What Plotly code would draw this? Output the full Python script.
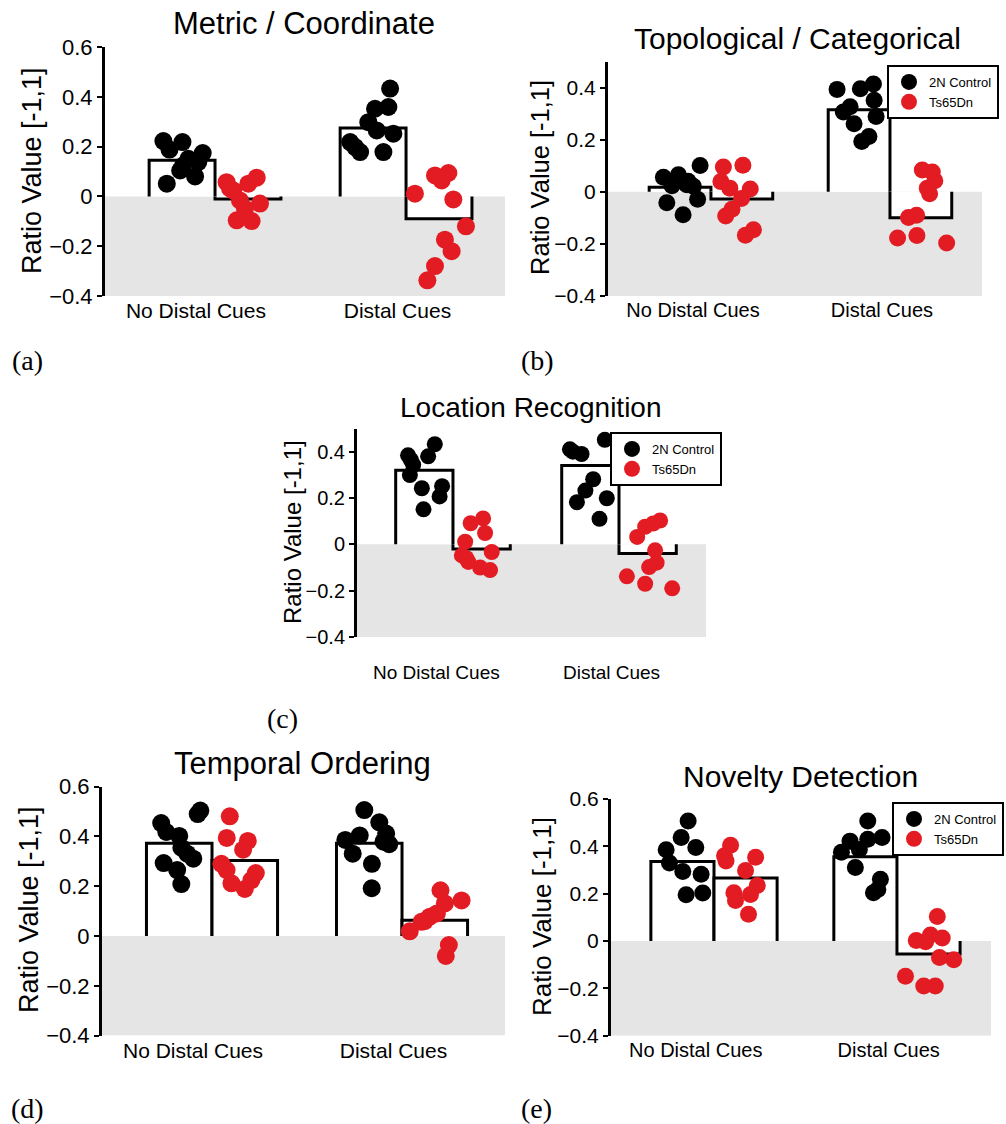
import plotly.graph_objects as go

# ---------------- data ----------------
categories = ["No Distal Cues", "Distal Cues"]
series_names = ["2N Control", "Ts65Dn"]

titles = ["Metric / Coordinate", "Topological / Categorical", "Location Recognition",
          "Temporal Ordering", "Novelty Detection"]
panel_labels = ["(a)", "(b)", "(c)", "(d)", "(e)"]
y_title = "Ratio Value [-1,1]"

# bar heights: [control no-distal, Ts65Dn no-distal, control distal, Ts65Dn distal]
A_bars = [0.145, -0.01, 0.275, -0.09]
B_bars = [0.017, -0.028, 0.315, -0.10]
C_bars = [0.32, -0.02, 0.34, -0.04]
D_bars = [0.373, 0.303, 0.373, 0.063]
E_bars = [0.336, 0.266, 0.356, -0.055]

# individual animals (values) and their horizontal jitter inside the bar
A_ctrl_nd = [0.222, 0.218, 0.188, 0.174, 0.151, 0.138, 0.104, 0.080, 0.051, 0.124]
A_ctrl_nd_jit = [-0.098, 0.002, -0.066, 0.108, 0.033, 0.085, -0.010, 0.068, -0.080, 0.005]
A_ts_nd = [0.057, 0.075, 0.051, 0.024, -0.016, -0.029, -0.049, -0.096, -0.099, 0.032]
A_ts_nd_jit = [-0.112, 0.046, 0.002, -0.077, -0.042, 0.063, -0.016, -0.059, 0.019, -0.094]
A_ctrl_d = [0.433, 0.359, 0.352, 0.298, 0.265, 0.252, 0.218, 0.178, 0.178, 0.198]
A_ctrl_d_jit = [0.089, 0.080, 0.010, -0.025, 0.019, 0.106, -0.120, -0.068, 0.054, -0.094]
A_ts_d = [0.011, 0.084, 0.094, 0.064, -0.012, -0.120, -0.174, -0.220, -0.280, -0.337]
A_ts_d_jit = [-0.126, -0.021, 0.049, 0.014, 0.075, 0.141, 0.031, 0.066, -0.021, -0.061]

B_ctrl_nd = [0.101, 0.056, 0.065, 0.023, 0.027, 0.021, -0.029, -0.042, -0.088, 0.040]
B_ctrl_nd_jit = [0.112, -0.093, -0.009, -0.045, 0.037, 0.074, 0.098, -0.074, 0.017, 0.045]
B_ts_nd = [0.095, 0.102, 0.039, 0.014, 0.011, -0.026, -0.067, -0.093, -0.146, -0.167]
B_ts_nd_jit = [-0.103, 0.006, -0.117, -0.067, 0.047, -0.002, -0.055, -0.090, 0.065, 0.020]
B_ctrl_d = [0.393, 0.395, 0.414, 0.351, 0.326, 0.306, 0.289, 0.261, 0.212, 0.193]
B_ctrl_d_jit = [-0.123, 0.007, 0.080, 0.084, -0.050, -0.088, 0.095, -0.028, 0.055, 0.015]
B_ts_d = [0.084, 0.076, 0.042, 0.014, -0.008, -0.090, -0.099, -0.177, -0.168, -0.197]
B_ts_d_jit = [0.008, 0.064, 0.078, 0.036, 0.049, -0.024, -0.069, -0.130, -0.022, 0.144]

C_ctrl_nd = [0.384, 0.432, 0.380, 0.343, 0.299, 0.242, 0.251, 0.207, 0.151, 0.364]
C_ctrl_nd_jit = [-0.098, 0.063, 0.023, -0.067, -0.087, -0.015, 0.107, 0.092, -0.005, -0.081]
C_ts_nd = [0.091, 0.112, 0.049, 0.011, -0.033, -0.048, -0.076, -0.100, -0.111, -0.059]
C_ts_nd_jit = [-0.066, 0.009, 0.021, -0.099, 0.061, -0.119, -0.080, -0.009, 0.051, -0.093]
C_ctrl_d = [0.410, 0.390, 0.451, 0.281, 0.232, 0.182, 0.199, 0.110, 0.400]
C_ctrl_d_jit = [-0.123, -0.053, 0.087, 0.017, -0.030, -0.081, 0.099, 0.055, -0.105]
C_ts_d = [0.103, 0.076, 0.032, -0.026, -0.079, -0.098, -0.138, -0.170, -0.190, 0.090]
C_ts_d_jit = [0.075, -0.015, -0.063, 0.045, 0.054, 0.009, -0.125, -0.015, 0.148, 0.033]

D_ctrl_nd = [0.454, 0.418, 0.402, 0.355, 0.331, 0.311, 0.293, 0.265, 0.209, 0.490, 0.504]
D_ctrl_nd_jit = [-0.095, -0.068, 0.000, 0.011, 0.042, 0.074, -0.082, -0.011, 0.011, 0.097, 0.111]
D_ts_nd = [0.481, 0.394, 0.382, 0.347, 0.290, 0.265, 0.253, 0.225, 0.212, 0.189]
D_ts_nd_jit = [-0.079, -0.095, 0.016, -0.009, -0.123, -0.096, 0.058, 0.035, -0.070, 0.000]
D_ctrl_d = [0.506, 0.457, 0.412, 0.404, 0.386, 0.369, 0.331, 0.290, 0.192, 0.379]
D_ctrl_d_jit = [-0.026, 0.053, 0.089, -0.050, -0.126, 0.105, -0.087, 0.014, 0.013, 0.075]
D_ts_d = [0.184, 0.143, 0.131, 0.091, 0.078, 0.057, 0.019, -0.036, -0.080, 0.060]
D_ts_d_jit = [0.030, 0.141, 0.053, 0.011, -0.026, -0.070, -0.132, 0.074, 0.058, -0.053]

E_ctrl_nd = [0.507, 0.437, 0.386, 0.395, 0.330, 0.294, 0.282, 0.195, 0.203]
E_ctrl_nd_jit = [0.031, -0.007, -0.089, 0.073, -0.071, 0.002, 0.102, 0.020, 0.111]
E_ts_nd = [0.405, 0.338, 0.354, 0.298, 0.235, 0.204, 0.197, 0.171, 0.113, 0.360]
E_ts_nd_jit = [-0.082, -0.107, 0.055, 0.000, 0.064, -0.064, 0.027, -0.055, 0.016, -0.115]
E_ctrl_d = [0.507, 0.422, 0.430, 0.437, 0.387, 0.375, 0.311, 0.261, 0.218, 0.204]
E_ctrl_d_jit = [0.013, -0.084, 0.013, 0.091, -0.033, -0.131, -0.055, 0.082, 0.068, 0.044]
E_ts_d = [0.104, 0.002, -0.003, 0.025, 0.013, -0.070, -0.079, -0.149, -0.190, -0.190]
E_ts_d_jit = [0.048, -0.067, -0.016, 0.011, 0.075, 0.060, 0.138, -0.126, -0.026, 0.037]

# ---------------- layout / style ----------------
W, H = 1006, 1124
BLACK = "black"
RED = "rgb(227,28,35)"
GRAY = "rgb(229,229,229)"
FONT = "Liberation Sans, Arial, Helvetica, sans-serif"
SERIF = "Liberation Serif, Times New Roman, serif"
BAR_W = 0.345
GROUP_POS = [1, 2]
TICK_POS = [0.9, 1.955]

# pixel boxes for each panel
panel_cfg = [
    dict(x0=105, x1=505, ytop=47, ybot=296, yr=[-0.4, 0.6], xr=[0.424, 2.518],
         title_xy=(304, 23), tsize=31, ticksize=21, yticksize=22, ytsize=27, ytitle_xy=(32, 171),
         label_xy=(27, 360), msize=18, standoff=0, legend=None),
    dict(x0=608, x1=982, ytop=61.5, ybot=296, yr=[-0.4, 0.5], xr=[0.425, 2.514],
         title_xy=(797, 39), tsize=30, ticksize=20, yticksize=21, ytsize=25.5, ytitle_xy=(540, 178),
         label_xy=(537, 360), msize=17, standoff=0, legend=(999, 65)),
    dict(x0=357, x1=706, ytop=428.5, ybot=637, yr=[-0.4, 0.5], xr=[0.422, 2.524],
         title_xy=(531, 408), tsize=28, ticksize=19, yticksize=20, ytsize=24, ytitle_xy=(293, 532),
         label_xy=(282, 718), msize=16, standoff=22, legend=(722, 432)),
    dict(x0=102, x1=505, ytop=786.7, ybot=1035.6, yr=[-0.4, 0.6], xr=[0.421, 2.542],
         title_xy=(302, 763), tsize=31, ticksize=21, yticksize=22, ytsize=27, ytitle_xy=(29, 910),
         label_xy=(27, 1108), msize=18, standoff=0, legend=None),
    dict(x0=611, x1=991, ytop=799, ybot=1035.7, yr=[-0.4, 0.6], xr=[0.437, 2.514],
         title_xy=(800, 776), tsize=30, ticksize=20, yticksize=21, ytsize=26, ytitle_xy=(542, 917),
         label_xy=(536, 1108), msize=17, standoff=0, legend=(1004, 802)),
]

panel_data = [
    (A_bars, A_ctrl_nd, A_ctrl_nd_jit, A_ts_nd, A_ts_nd_jit, A_ctrl_d, A_ctrl_d_jit, A_ts_d, A_ts_d_jit),
    (B_bars, B_ctrl_nd, B_ctrl_nd_jit, B_ts_nd, B_ts_nd_jit, B_ctrl_d, B_ctrl_d_jit, B_ts_d, B_ts_d_jit),
    (C_bars, C_ctrl_nd, C_ctrl_nd_jit, C_ts_nd, C_ts_nd_jit, C_ctrl_d, C_ctrl_d_jit, C_ts_d, C_ts_d_jit),
    (D_bars, D_ctrl_nd, D_ctrl_nd_jit, D_ts_nd, D_ts_nd_jit, D_ctrl_d, D_ctrl_d_jit, D_ts_d, D_ts_d_jit),
    (E_bars, E_ctrl_nd, E_ctrl_nd_jit, E_ts_nd, E_ts_nd_jit, E_ctrl_d, E_ctrl_d_jit, E_ts_d, E_ts_d_jit),
]


def fx(px):
    return px / W


def fy(py):
    return 1 - py / H


fig = go.Figure()
layout = dict(
    width=W, height=H, margin=dict(l=0, r=0, t=0, b=0, pad=0), autosize=False,
    paper_bgcolor="white", plot_bgcolor="rgba(0,0,0,0)",
    font=dict(family=FONT, color="black"),
    showlegend=True, shapes=[], annotations=[],
)

legend_names = iter(["legend", "legend2", "legend3"])

for i, (cfg, data) in enumerate(zip(panel_cfg, panel_data)):
    n = i + 1
    xa = "xaxis" if n == 1 else f"xaxis{n}"
    ya = "yaxis" if n == 1 else f"yaxis{n}"
    xr_ = "x" if n == 1 else f"x{n}"
    yr_ = "y" if n == 1 else f"y{n}"
    bars, c_nd, c_nd_j, t_nd, t_nd_j, c_d, c_d_j, t_d, t_d_j = data

    layout[xa] = dict(domain=[fx(cfg["x0"]), fx(cfg["x1"])], range=cfg["xr"], anchor=yr_,
                      showgrid=False, zeroline=False, showline=False, ticks="",
                      tickmode="array", tickvals=TICK_POS, ticktext=categories,
                      tickfont=dict(size=cfg["ticksize"], family=FONT, color="black"),
                      ticklabelstandoff=cfg["standoff"], fixedrange=True, automargin=False)
    layout[ya] = dict(domain=[fy(cfg["ybot"]), fy(cfg["ytop"])], range=cfg["yr"], anchor=xr_,
                      showgrid=False, zeroline=False, showline=True, linecolor="black",
                      linewidth=3, ticks="outside", ticklen=5, tickwidth=2, tickcolor="black",
                      dtick=0.2, tick0=0,
                      tickfont=dict(size=cfg["yticksize"], family=FONT, color="black"),
                      fixedrange=True, automargin=False)

    # gray "below chance" region
    layout["shapes"].append(dict(type="rect", xref=f"{xr_} domain", yref=yr_, x0=0, x1=1,
                                 y0=cfg["yr"][0], y1=0, fillcolor=GRAY, line=dict(width=0),
                                 layer="below"))

    # bars (open at the base)
    centers = [GROUP_POS[0] - BAR_W / 2, GROUP_POS[0] + BAR_W / 2,
               GROUP_POS[1] - BAR_W / 2, GROUP_POS[1] + BAR_W / 2]
    for xc, h in zip(centers, bars):
        fig.add_trace(go.Scatter(
            x=[xc - BAR_W / 2, xc - BAR_W / 2, xc + BAR_W / 2, xc + BAR_W / 2],
            y=[0, h, h, 0], mode="lines", fill="toself", fillcolor="white",
            line=dict(color="black", width=3), xaxis=xr_, yaxis=yr_,
            showlegend=False, hoverinfo="skip"))

    leg = next(legend_names) if cfg["legend"] else None
    ctrl_x = [centers[0] + j for j in c_nd_j] + [centers[2] + j for j in c_d_j]
    ctrl_y = list(c_nd) + list(c_d)
    ts_x = [centers[1] + j for j in t_nd_j] + [centers[3] + j for j in t_d_j]
    ts_y = list(t_nd) + list(t_d)
    for name, xs, ys, col in [(series_names[0], ctrl_x, ctrl_y, BLACK),
                              (series_names[1], ts_x, ts_y, RED)]:
        tr = dict(x=xs, y=ys, mode="markers", name=name,
                  marker=dict(color=col, size=cfg["msize"], line=dict(width=0)),
                  xaxis=xr_, yaxis=yr_, showlegend=leg is not None)
        if leg:
            tr["legend"] = leg
        fig.add_trace(go.Scatter(**tr))

    if leg:
        lx, ly = cfg["legend"]
        layout[leg] = dict(x=fx(lx), y=fy(ly), xanchor="right", yanchor="top",
                           xref="paper", yref="paper",
                           bordercolor="black", borderwidth=2, bgcolor="white",
                           font=dict(size=13, family=FONT, color="black"),
                           itemwidth=30, tracegroupgap=0, itemsizing="trace")

    # title, y-axis title, panel label
    tx, ty = cfg["title_xy"]
    layout["annotations"].append(dict(text=titles[i], x=fx(tx), y=fy(ty), xref="paper", yref="paper",
                                      xanchor="center", yanchor="middle", showarrow=False,
                                      font=dict(size=cfg["tsize"], family=FONT, color="black")))
    yx, yy = cfg["ytitle_xy"]
    layout["annotations"].append(dict(text=y_title, x=fx(yx), y=fy(yy), xref="paper", yref="paper",
                                      xanchor="center", yanchor="middle", showarrow=False,
                                      textangle=-90,
                                      font=dict(size=cfg["ytsize"], family=FONT, color="black")))
    lx_, ly_ = cfg["label_xy"]
    layout["annotations"].append(dict(text=panel_labels[i], x=fx(lx_), y=fy(ly_), xref="paper",
                                      yref="paper", xanchor="center", yanchor="middle",
                                      showarrow=False,
                                      font=dict(size=28, family=SERIF, color="black")))

fig.update_layout(**layout)
fig.write_html("out.html",
               post_script="document.body.style.margin='0px';document.body.style.padding='0px';")
